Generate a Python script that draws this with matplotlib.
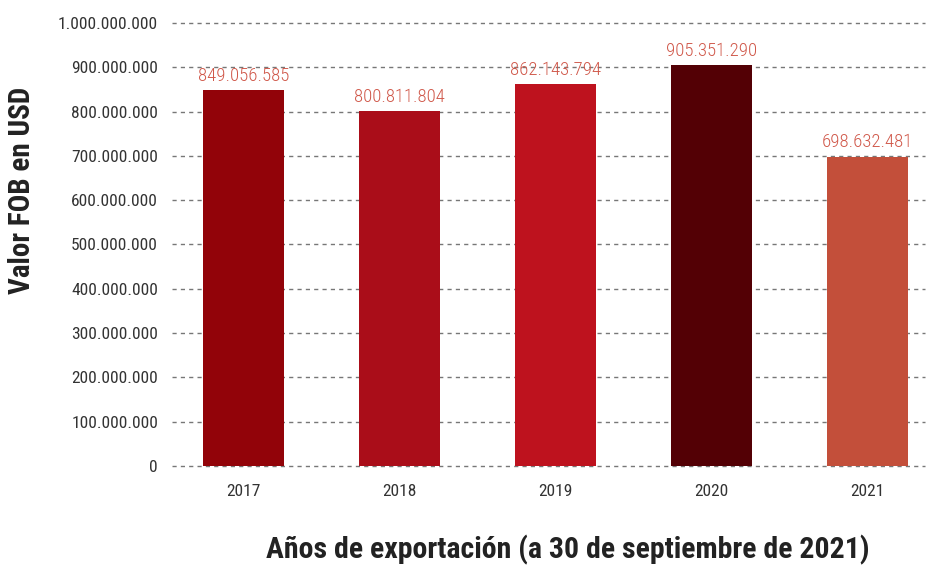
import matplotlib
matplotlib.use("Agg")
import matplotlib.pyplot as plt
from matplotlib.ticker import FuncFormatter
from matplotlib import font_manager

years = ["2017", "2018", "2019", "2020", "2021"]
values = [849056585, 800811804, 862143794, 905351290, 698632481]
colors = ["#920309", "#AA0D19", "#BE121E", "#530005", "#C34F3A"]

avail = {f.name for f in font_manager.fontManager.ttflist}
fam = None
for cand in ["Roboto Condensed", "Liberation Sans Narrow", "DejaVu Sans Condensed", "Open Sans Condensed"]:
    if cand in avail:
        fam = cand
        break
if fam is None:
    fam = "DejaVu Sans"
plt.rcParams['font.family'] = [fam, "DejaVu Sans"]

def fmt(v):
    return f"{int(round(v)):,}".replace(",", ".")

fig = plt.figure(figsize=(9.35, 5.67), dpi=100)
ax = fig.add_axes([172/935, 1-466/567, (925-172)/935, (466-23)/567])
x = list(range(len(years)))
bars = ax.bar(x, values, width=0.52, color=colors, zorder=3)
for xi, v in zip(x, values):
    ax.text(xi, v + 12e6, fmt(v), ha="center", va="bottom", color="#D0584A",
            fontsize=13.5, fontweight="light")

ax.set_ylim(0, 1e9)
ax.set_xlim(-0.46, 4.37)
ax.set_yticks([i*1e8 for i in range(11)])
ax.yaxis.set_major_formatter(FuncFormatter(lambda v, p: fmt(v)))
ax.set_xticks(x)
ax.set_xticklabels(years)
ax.tick_params(axis="both", length=0, labelsize=12.5, colors="#333333")
ax.tick_params(axis="y", pad=10)
ax.tick_params(axis="x", pad=13)
ax.grid(axis="y", color="#777777", linestyle=(0, (3, 3)), linewidth=1, zorder=0)
for gl in ax.get_ygridlines():
    gl.set_clip_on(False)
for s in ax.spines.values():
    s.set_visible(False)

fig.text(22/935, 1-190/567, "Valor FOB en USD", rotation=90, ha="center", va="center",
         fontsize=21, fontweight="bold", color="#222222")
fig.text(568/935, 1-550/567, "Años de exportación (a 30 de septiembre de 2021)", ha="center", va="center",
         fontsize=21.5, fontweight="bold", color="#222222")

fig.savefig("out.png", dpi=100)
